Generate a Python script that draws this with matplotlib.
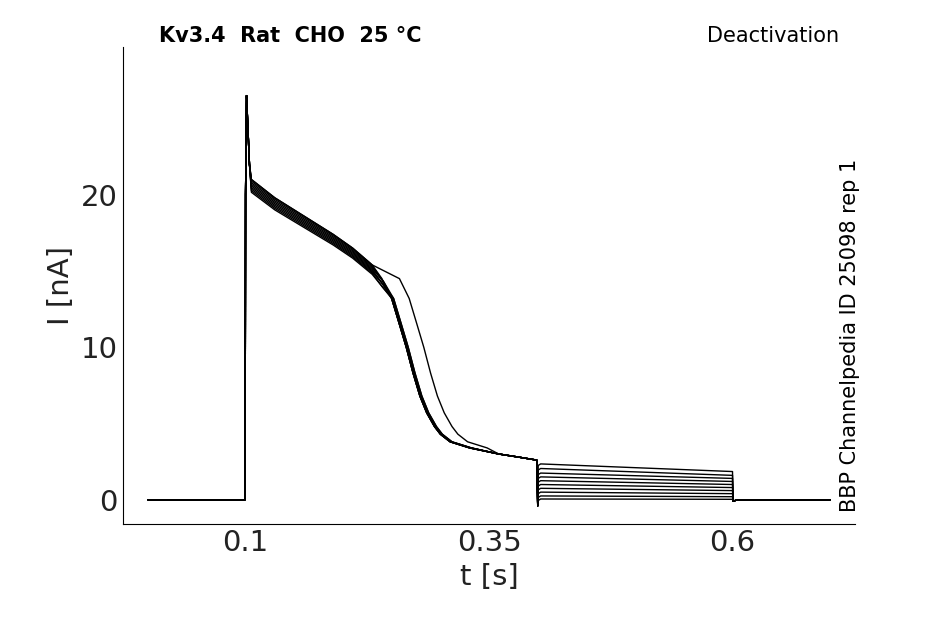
import matplotlib
matplotlib.use('Agg')
import matplotlib.pyplot as plt

# ---- Data ----
pre_t = [0.0, 0.0995]
pre_i = [0.0, 0.0]
pulse_t = [0.1, 0.101, 0.102, 0.104, 0.106, 0.13, 0.16, 0.19, 0.21, 0.23, 0.24, 0.25,
           0.258, 0.265, 0.272, 0.279, 0.286, 0.294, 0.30, 0.31, 0.33, 0.36, 0.38, 0.399]
pulse_i = [20.0, 26.5, 25.0, 22.0, 21.0, 19.8, 18.6, 17.4, 16.5, 15.4, 14.5, 13.2,
           11.5, 10.0, 8.3, 6.8, 5.7, 4.8, 4.3, 3.8, 3.4, 3.0, 2.8, 2.6]
trace_scale = [1.0, 0.995, 0.99, 0.985, 0.98, 0.975, 0.97, 0.965, 0.96, 1.0]
trace_shift = [0.0, 0.0, 0.001, 0.002, 0.0, 0.001, 0.002, 0.0, 0.001, 0.018]
tail_start = [2.35, 2.05, 1.75, 1.5, 1.25, 1.0, 0.75, 0.5, 0.25, 0.05]
tail_end = [1.85, 1.6, 1.4, 1.2, 1.0, 0.8, 0.6, 0.4, 0.2, 0.03]
post_t = [0.6005, 0.605, 0.7]
post_i = [-0.1, 0.0, 0.0]

fig, ax = plt.subplots(figsize=(9.45, 6.24), dpi=100)
fig.subplots_adjust(left=0.13, right=0.905, top=0.925, bottom=0.16)

for sc, sh, ts, te in zip(trace_scale, trace_shift, tail_start, tail_end):
    t = list(pre_t)
    y = list(pre_i)
    for k, (pt, pi) in enumerate(zip(pulse_t, pulse_i)):
        t.append(pt + (sh if 10 <= k <= 20 else 0.0))
        y.append(pi * sc if 4 <= k <= 10 else pi)
    t += [0.4, 0.4005, 0.403, 0.6]
    y += [-0.4, ts - 0.1, ts, te]
    t += post_t
    y += post_i
    ax.plot(t, y, color='black', linewidth=1.0)

ax.set_xlim(-0.026, 0.726)
ax.set_ylim(-1.6, 29.7)
ax.set_xticks([0.1, 0.35, 0.6])
ax.set_xticklabels(['0.1', '0.35', '0.6'])
ax.set_yticks([0, 10, 20])
ax.tick_params(labelsize=21, colors='#222222', length=0)
ax.set_xlabel('t [s]', fontsize=21, color='#222222')
ax.set_ylabel('I [nA]', fontsize=21, color='#222222')
for s in ['top', 'right']:
    ax.spines[s].set_visible(False)

fig.text(0.168, 0.932, 'Kv3.4  Rat  CHO  25 °C', fontsize=15, fontweight='bold')
fig.text(0.888, 0.932, 'Deactivation', fontsize=15, ha='right')
fig.text(0.9, 0.462, 'BBP Channelpedia ID 25098 rep 1', fontsize=15,
         rotation=90, ha='center', va='center')

plt.savefig('out.png', dpi=100)
